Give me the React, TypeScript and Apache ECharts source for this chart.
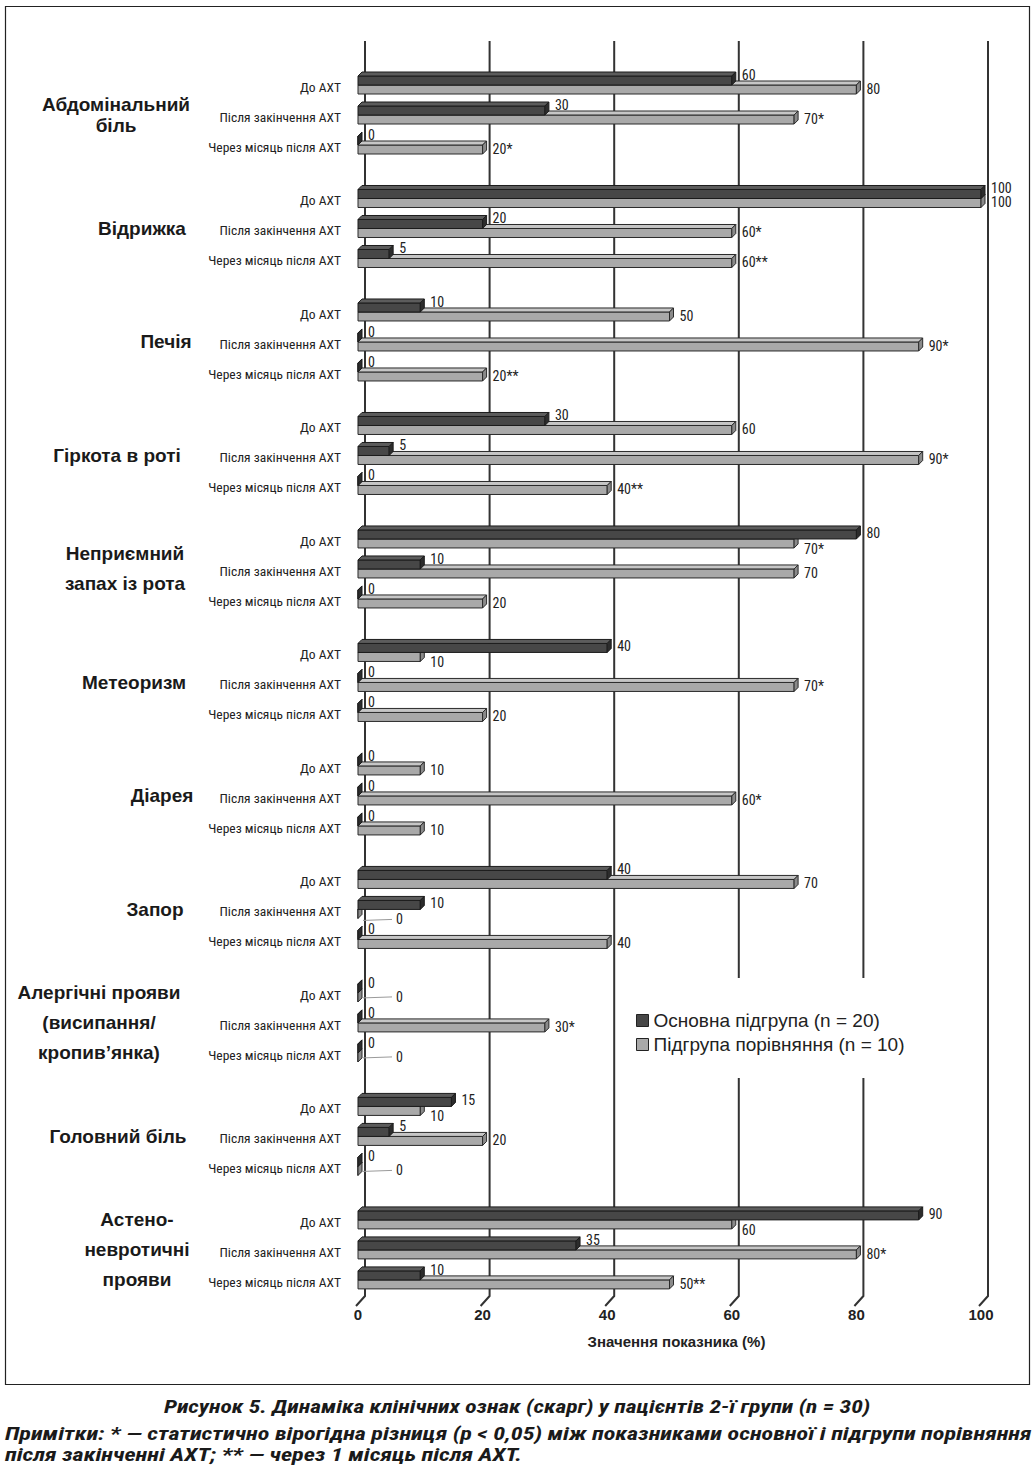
import React, { useEffect, useRef } from 'react';
import * as echarts from 'echarts';

const groupNames = [
  'Абдомінальний\nбіль',
  'Відрижка',
  'Печія',
  'Гіркота в роті',
  'Неприємний\nзапах із рота',
  'Метеоризм',
  'Діарея',
  'Запор',
  'Алергічні прояви\n(висипання/\nкропив’янка)',
  'Головний біль',
  'Астено-\nневротичні\nпрояви',
];
const periods = ['До АХТ', 'Після закінчення АХТ', 'Через місяць після АХТ'];
const seriesNames = ['Основна підгрупа (n = 20)', 'Підгрупа порівняння (n = 10)'];

const mainValues = [
  [60, 30, 0],
  [100, 20, 5],
  [10, 0, 0],
  [30, 5, 0],
  [80, 10, 0],
  [40, 0, 0],
  [0, 0, 0],
  [40, 10, 0],
  [0, 0, 0],
  [15, 5, 0],
  [90, 35, 10],
];
const compValues = [
  [80, 70, 20],
  [100, 60, 60],
  [50, 90, 20],
  [60, 90, 40],
  [70, 70, 20],
  [10, 70, 20],
  [10, 60, 10],
  [70, 0, 40],
  [0, 30, 0],
  [10, 20, 0],
  [60, 80, 50],
];
const compMarks = [
  ['', '*', '*'],
  ['', '*', '**'],
  ['', '*', '**'],
  ['', '*', '**'],
  ['*', '', ''],
  ['', '*', ''],
  ['', '*', ''],
  ['', '', ''],
  ['', '*', ''],
  ['', '', ''],
  ['', '*', '**'],
];
const xTicks = [0, 20, 40, 60, 80, 100];
const caption = 'Рисунок 5. Динаміка клінічних ознак (скарг) у пацієнтів 2-ї групи (n = 30)';
const note1 = 'Примітки: * — статистично вірогідна різниця (p < 0,05) між показниками основної і підгрупи порівняння';
const note2 = 'після закінченні АХТ; ** — через 1 місяць після АХТ.';

// layout
const GROUP_STEP = 3.783;
const groupLabelX = [116, 142, 166, 117, 125, 134, 162, 155, 99, 118, 137];
const NARROW = '"Liberation Sans Narrow", "Arial Narrow", "Roboto Condensed", sans-serif';
const SANS = '"Liberation Sans", Arial, sans-serif';

const palette = [
  { front: '#474747', top: '#5c5c5c', side: '#2c2c2c', edge: '#1c1c1c' },
  { front: '#a9a9a9', top: '#c6c6c6', side: '#8a8a8a', edge: '#2a2a2a' },
];

function rowPos(g: number, s: number) {
  return g * GROUP_STEP + s;
}

function makeBarRender(kind: number) {
  return (params: any, api: any) => {
    const v = api.value(0);
    const pos = api.value(1);
    const g = api.value(2);
    const s = api.value(3);
    const p0 = api.coord([0, pos]);
    const p1 = api.coord([v, pos]);
    const x0 = p0[0];
    const yc = p0[1];
    const x1 = p1[0];
    const h = 9;
    const dx = 4;
    const dy = -4;
    const top = kind === 0 ? yc - 2 - h : yc - 2;
    const bot = top + h;
    const c = palette[kind];
    const darkLonger = mainValues[g][s] > compValues[g][s];
    const label = kind === 0 ? String(v) : String(v) + compMarks[g][s];
    let ly: number;
    let lx = x1 + dx + 6;
    const children: any[] = [
      {
        type: 'rect',
        shape: { x: x0, y: top, width: x1 - x0, height: h },
        style: { fill: c.front, stroke: c.edge, lineWidth: 1 },
      },
      {
        type: 'polygon',
        shape: { points: [[x0, top], [x1, top], [x1 + dx, top + dy], [x0 + dx, top + dy]] },
        style: { fill: c.top, stroke: c.edge, lineWidth: 1 },
      },
      {
        type: 'polygon',
        shape: { points: [[x1, top], [x1 + dx, top + dy], [x1 + dx, bot + dy], [x1, bot]] },
        style: { fill: c.side, stroke: c.edge, lineWidth: 1 },
      },
    ];
    if (kind === 0) {
      ly = darkLonger ? yc - 8 : yc - 12;
    } else {
      ly = darkLonger ? yc + 8 : yc + 2;
      if (v === 0) {
        // zero label pulled aside with a leader line
        lx = x1 + 38;
        children.push({
          type: 'line',
          shape: { x1: x1 + 5, y1: ly + 1, x2: lx - 4, y2: ly },
          style: { stroke: '#9a9a9a', lineWidth: 1 },
        });
      }
    }
    children.push({
      type: 'text',
      x: lx,
      y: ly,
      style: {
        text: label,
        fill: '#222',
        fontSize: 14,
        fontFamily: NARROW,
        align: 'left',
        verticalAlign: 'middle',
      },
    });
    return { type: 'group', children };
  };
}

const captionStyle = {
  fill: '#1a1a1a',
  fontSize: 18,
  fontWeight: 'bold',
  fontStyle: 'italic',
  fontFamily: NARROW,
  verticalAlign: 'middle',
};

export default function App() {
  const ref = useRef<HTMLDivElement>(null);
  useEffect(() => {
    if (!ref.current) return;
    const chart = echarts.init(ref.current, undefined, { renderer: 'svg' });

    const mainData: any[] = [];
    const compData: any[] = [];
    const periodData: any[] = [];
    groupNames.forEach((_, g) => {
      periods.forEach((__, s) => {
        mainData.push([mainValues[g][s], rowPos(g, s), g, s]);
        compData.push([compValues[g][s], rowPos(g, s), g, s]);
        periodData.push([0, rowPos(g, s), s]);
      });
    });
    const groupData = groupNames.map((_, g) => [0, rowPos(g, 1), g]);
    const tickData = xTicks.map((v) => [v, 0]);

    const option: any = {
      animation: false,
      backgroundColor: '#fff',
      grid: { left: 358, width: 623, top: 42, height: 1260 },
      xAxis: {
        type: 'value',
        min: 0,
        max: 100,
        interval: 20,
        axisLine: { show: false },
        axisTick: { show: false },
        splitLine: { show: false },
        axisLabel: {
          margin: 5,
          fontSize: 15,
          fontWeight: 'bold',
          color: '#222',
          fontFamily: SANS,
        },
        name: 'Значення показника (%)',
        nameLocation: 'middle',
        nameGap: 39,
        nameTextStyle: {
          fontSize: 15,
          fontWeight: 'bold',
          color: '#222',
          fontFamily: SANS,
          verticalAlign: 'middle',
          padding: [0, 0, 0, 14],
        },
      },
      yAxis: {
        type: 'value',
        min: -1.5,
        max: 40.5,
        inverse: true,
        show: false,
      },
      legend: {
        data: seriesNames,
        orient: 'vertical',
        left: 626,
        top: 978,
        icon: 'rect',
        itemWidth: 12,
        itemHeight: 12,
        itemGap: 5,
        padding: [33, 14, 24, 10],
        backgroundColor: '#fff',
        selectedMode: false,
        itemStyle: { borderColor: '#222', borderWidth: 1 },
        textStyle: { fontSize: 19, color: '#222', fontFamily: SANS },
      },
      graphic: [
        {
          type: 'rect',
          shape: { x: 5.5, y: 6.5, width: 1024, height: 1378 },
          style: { fill: 'none', stroke: '#222', lineWidth: 1.2 },
          silent: true,
        },
        {
          type: 'text',
          x: 517,
          y: 1407,
          scaleX: 1.31,
          style: { ...captionStyle, text: caption, align: 'center' },
        },
        {
          type: 'text',
          x: 5,
          y: 1434,
          scaleX: 1.34,
          style: { ...captionStyle, text: note1, align: 'left' },
        },
        {
          type: 'text',
          x: 5,
          y: 1455,
          scaleX: 1.34,
          style: { ...captionStyle, text: note2, align: 'left' },
        },
      ],
      series: [
        {
          name: 'grid-lines',
          type: 'custom',
          silent: true,
          data: tickData,
          renderItem: (params: any, api: any) => {
            const v = api.value(0);
            const xf = api.coord([v, -1.5])[0];
            const yTop = api.coord([v, -1.5])[1] - 1;
            const yBot = api.coord([v, 40.5])[1] - 6;
            return {
              type: 'polyline',
              shape: { points: [[xf - 2, yBot + 10], [xf + 7, yBot], [xf + 7, yTop]] },
              style: { stroke: '#333', lineWidth: 2, fill: 'none' },
            };
          },
        },
        {
          name: 'period-labels',
          type: 'custom',
          silent: true,
          data: periodData,
          renderItem: (params: any, api: any) => {
            const y = api.coord([0, api.value(1)])[1];
            return {
              type: 'text',
              x: 341,
              y: y,
              style: {
                text: periods[api.value(2)],
                fill: '#222',
                fontSize: 13.5,
                fontFamily: NARROW,
                align: 'right',
                verticalAlign: 'middle',
              },
            };
          },
        },
        {
          name: 'group-labels',
          type: 'custom',
          silent: true,
          data: groupData,
          renderItem: (params: any, api: any) => {
            const g = api.value(2);
            const y = api.coord([0, api.value(1)])[1];
            return {
              type: 'text',
              x: groupLabelX[g],
              y: y - 2,
              style: {
                text: groupNames[g],
                fill: '#1a1a1a',
                fontSize: 19,
                fontWeight: 'bold',
                fontFamily: SANS,
                align: 'center',
                verticalAlign: 'middle',
                lineHeight: g === 0 ? 21 : 30,
              },
            };
          },
        },
        {
          name: seriesNames[1],
          type: 'custom',
          data: compData,
          itemStyle: { color: palette[1].front, borderColor: '#222' },
          renderItem: makeBarRender(1),
        },
        {
          name: seriesNames[0],
          type: 'custom',
          data: mainData,
          itemStyle: { color: palette[0].front, borderColor: '#222' },
          renderItem: makeBarRender(0),
        },
      ],
    };
    chart.setOption(option);
    return () => chart.dispose();
  }, []);
  return (
    <div
      ref={ref}
      style={{ position: 'absolute', left: 0, top: 0, width: 1035, height: 1466 }}
    />
  );
}
